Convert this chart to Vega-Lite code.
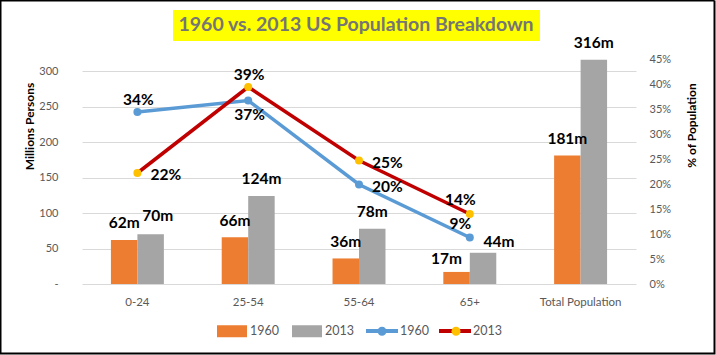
{
  "$schema": "https://vega.github.io/schema/vega-lite/v6.json",
  "width": 554,
  "height": 225,
  "autosize": {"type": "none"},
  "padding": {"left": 82, "top": 59, "right": 80, "bottom": 71},
  "background": "white",
  "datasets": {
    "bars": [
      {"age": "0-24", "year": "1960", "millions": 62},
      {"age": "0-24", "year": "2013", "millions": 70},
      {"age": "25-54", "year": "1960", "millions": 66},
      {"age": "25-54", "year": "2013", "millions": 124},
      {"age": "55-64", "year": "1960", "millions": 36},
      {"age": "55-64", "year": "2013", "millions": 78},
      {"age": "65+", "year": "1960", "millions": 17},
      {"age": "65+", "year": "2013", "millions": 44},
      {"age": "Total Population", "year": "1960", "millions": 181},
      {"age": "Total Population", "year": "2013", "millions": 316}
    ],
    "lines": [
      {"age": "0-24", "year": "1960", "pct": 0.344},
      {"age": "25-54", "year": "1960", "pct": 0.367},
      {"age": "55-64", "year": "1960", "pct": 0.199},
      {"age": "65+", "year": "1960", "pct": 0.093},
      {"age": "0-24", "year": "2013", "pct": 0.222},
      {"age": "25-54", "year": "2013", "pct": 0.394},
      {"age": "55-64", "year": "2013", "pct": 0.247},
      {"age": "65+", "year": "2013", "pct": 0.14}
    ]
  },
  "encoding": {
    "x": {
      "field": "age",
      "type": "nominal",
      "scale": {
        "domain": ["0-24", "25-54", "55-64", "65+", "Total Population"],
        "paddingInner": 0.522,
        "paddingOuter": 0.261
      },
      "axis": {
        "title": null,
        "labelAngle": 0,
        "labelFontSize": 11.5,
        "labelPadding": 12,
        "labelColor": "#595959",
        "domain": false,
        "ticks": false,
        "grid": false
      }
    }
  },
  "layer": [
    {
      "data": {"name": "bars"},
      "encoding": {
        "xOffset": {"field": "year", "type": "nominal", "scale": {"paddingInner": 0, "paddingOuter": 0}},
        "y": {
          "field": "millions",
          "type": "quantitative",
          "scale": {"domain": [0, 317], "nice": false},
          "axis": {
            "title": "Millions Persons",
            "values": [0, 50, 100, 150, 200, 250, 300],
            "labelExpr": "datum.value === 0 ? '-' : datum.label",
            "labelFontSize": 11,
            "labelPadding": 24,
            "labelColor": "#595959",
            "grid": true,
            "gridColor": "#D9D9D9",
            "domain": false,
            "ticks": false,
            "titleFontSize": 12,
            "titleFontWeight": "bold",
            "titleColor": "#000000",
            "titleX": -53,
            "titleY": 67,
            "titleAngle": 270,
            "titleAlign": "center",
            "titleBaseline": "middle"
          }
        }
      },
      "layer": [
        {
          "mark": {"type": "bar"},
          "encoding": {
            "color": {
              "field": "year",
              "type": "nominal",
              "scale": {"range": ["#ED7D31", "#A5A5A5"]},
              "legend": {
                "orient": "none",
                "legendX": 135,
                "legendY": 257,
                "direction": "horizontal",
                "title": null,
                "symbolType": "M-1,-0.4H1V0.4H-1Z",
                "symbolSize": 900,
                "symbolStrokeWidth": 0,
                "labelOffset": 3,
                "columnPadding": 13,
                "labelFont": "Lato",
                "labelFontSize": 12.5,
                "labelColor": "#595959",
                "padding": 0
              }
            },
            "opacity": {
              "datum": "bg",
              "type": "nominal",
              "scale": {"type": "point", "domain": ["bg"], "range": [1, 1]},
              "legend": {
                "orient": "none",
                "legendX": 91,
                "legendY": -49,
                "title": "1960 vs. 2013 US Population Breakdown",
                "titleFont": "Lato",
                "titleFontSize": 19.5,
                "titleFontWeight": "bold",
                "titleColor": "#757575",
                "titleLimit": 1000,
                "titlePadding": 0,
                "fillColor": "#FFFF00",
                "padding": 5.5,
                "symbolSize": 0,
                "symbolOpacity": 0,
                "symbolStrokeWidth": 0,
                "labelExpr": "''",
                "labelFontSize": 1,
                "labelOffset": 0,
                "encode": {"symbols": {"update": {"fill": {"value": "transparent"}, "stroke": {"value": "transparent"}}}}
              }
            },
            "strokeDash": {
              "datum": "frame",
              "type": "nominal",
              "scale": {"domain": ["frame"], "range": [[1, 0]]},
              "legend": {
                "orient": "none",
                "legendX": -82.5,
                "legendY": -240,
                "title": null,
                "symbolType": "M-1,-0.4944H1V0.4944H-1Z",
                "symbolSize": 509796,
                "symbolStrokeWidth": 2,
                "symbolStrokeColor": "#000000",
                "symbolFillColor": "transparent",
                "labelExpr": "''",
                "labelFontSize": 1,
                "padding": 0,
                "encode": {"symbols": {"update": {"fill": {"value": "transparent"}, "stroke": {"value": "#000000"}, "strokeWidth": {"value": 2}, "strokeDash": {"value": [1, 0]}}}}
              }
            }
          }
        },
        {
          "transform": [{"filter": "!((datum.year == '2013' && datum.age == '0-24') || datum.age == '65+')"}],
          "mark": {"type": "text", "dy": -16.5, "font": "Lato", "fontSize": 15.5, "fontWeight": "bold", "color": "#000000", "text": {"expr": "datum.millions + 'm'"}}
        },
        {
          "transform": [{"filter": "datum.year == '2013' && datum.age == '0-24'"}],
          "mark": {"type": "text", "dx": 7, "dy": -18, "font": "Lato", "fontSize": 15.5, "fontWeight": "bold", "color": "#000000", "text": {"expr": "datum.millions + 'm'"}}
        },
        {
          "transform": [{"filter": "datum.year == '1960' && datum.age == '65+'"}],
          "mark": {"type": "text", "dx": -10, "dy": -13, "font": "Lato", "fontSize": 15.5, "fontWeight": "bold", "color": "#000000", "text": {"expr": "datum.millions + 'm'"}}
        },
        {
          "transform": [{"filter": "datum.year == '2013' && datum.age == '65+'"}],
          "mark": {"type": "text", "dx": 16, "dy": -11, "font": "Lato", "fontSize": 15.5, "fontWeight": "bold", "color": "#000000", "text": {"expr": "datum.millions + 'm'"}}
        }
      ]
    },
    {
      "data": {"name": "lines"},
      "encoding": {
        "y": {
          "field": "pct",
          "type": "quantitative",
          "scale": {"domain": [0, 0.45], "nice": false},
          "axis": {
            "orient": "right",
            "title": "% of Population",
            "values": [0, 0.05, 0.1, 0.15, 0.2, 0.25, 0.3, 0.35, 0.4, 0.45],
            "format": ".0%",
            "labelFontSize": 11,
            "labelPadding": 13,
            "labelColor": "#595959",
            "grid": false,
            "domain": false,
            "ticks": false,
            "titleFontSize": 12,
            "titleFontWeight": "bold",
            "titleColor": "#000000",
            "titleX": 55.5,
            "titleY": 66,
            "titleAngle": 270,
            "titleAlign": "center",
            "titleBaseline": "middle"
          }
        }
      },
      "layer": [
        {
          "mark": {"type": "line", "strokeWidth": 3.5},
          "encoding": {
            "stroke": {
              "field": "year",
              "type": "nominal",
              "scale": {"range": ["#5B9BD5", "#C00000"]},
              "legend": {
                "orient": "none",
                "legendX": 282,
                "legendY": 254,
                "direction": "horizontal",
                "title": null,
                "symbolType": "stroke",
                "symbolSize": 1024,
                "symbolStrokeWidth": 4,
                "labelOffset": 0,
                "columnPadding": 2,
                "labelFont": "Lato",
                "labelFontSize": 12.5,
                "labelColor": "#595959",
                "padding": 0
              }
            }
          }
        },
        {
          "mark": {"type": "point", "filled": true, "size": 64, "opacity": 1, "strokeWidth": 0},
          "encoding": {
            "fill": {
              "field": "year",
              "type": "nominal",
              "scale": {"domain": ["1960", "2013"], "range": ["#5B9BD5", "#FFC000"]},
              "legend": {
                "orient": "none",
                "legendX": 282,
                "legendY": 254,
                "direction": "horizontal",
                "title": null,
                "symbolType": "M-1,0M1,0M-0.25,0A0.25,0.25,0,1,0,0.25,0A0.25,0.25,0,1,0,-0.25,0Z",
                "symbolSize": 1296,
                "symbolStrokeWidth": 0,
                "labelOffset": 0,
                "columnPadding": 38,
                "labelExpr": "''",
                "labelFontSize": 12.5,
                "padding": 0
              }
            }
          }
        },
        {
          "transform": [{"filter": "(datum.year == '1960' && datum.age == '0-24') || (datum.year == '2013' && datum.age == '25-54')"}],
          "mark": {"type": "text", "dx": 1, "dy": -12, "font": "Lato", "fontSize": 15.5, "fontWeight": "bold", "color": "#000000"},
          "encoding": {"text": {"field": "pct", "format": ".0%"}}
        },
        {
          "transform": [{"filter": "datum.year == '1960' && datum.age == '25-54'"}],
          "mark": {"type": "text", "dx": 1.5, "dy": 14, "font": "Lato", "fontSize": 15.5, "fontWeight": "bold", "color": "#000000"},
          "encoding": {"text": {"field": "pct", "format": ".0%"}}
        },
        {
          "transform": [{"filter": "(datum.year == '2013' && datum.age == '0-24') || datum.age == '55-64'"}],
          "mark": {"type": "text", "align": "left", "dx": 13, "dy": 2, "font": "Lato", "fontSize": 15.5, "fontWeight": "bold", "color": "#000000"},
          "encoding": {"text": {"field": "pct", "format": ".0%"}}
        },
        {
          "transform": [{"filter": "datum.age == '65+'"}],
          "mark": {"type": "text", "dx": -9.5, "dy": -14, "font": "Lato", "fontSize": 15.5, "fontWeight": "bold", "color": "#000000"},
          "encoding": {"text": {"field": "pct", "format": ".0%"}}
        }
      ]
    }
  ],
  "resolve": {"scale": {"y": "independent"}},
  "config": {
    "view": {"stroke": null},
    "font": "Lato",
    "axis": {"labelFont": "Lato", "titleFont": "Lato"},
    "legend": {"labelFont": "Lato", "titleFont": "Lato"}
  }
}
